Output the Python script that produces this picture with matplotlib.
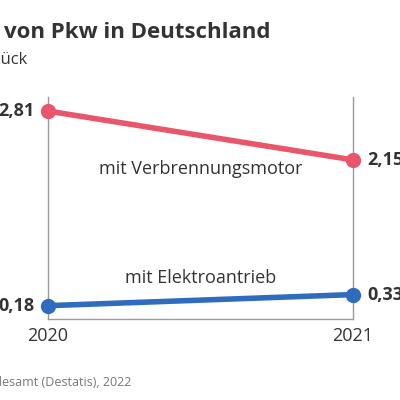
import matplotlib
matplotlib.use("Agg")
import matplotlib.pyplot as plt

years = ["2020", "2021"]
verbrenner = [2.81, 2.15]
elektro = [0.18, 0.33]
labels_v = ["2,81", "2,15"]
labels_e = ["0,18", "0,33"]
title = "von Pkw in Deutschland"
subtitle = "in Millionen Stück"
source = "Quelle: Statistisches Bundesamt (Destatis), 2022"

RED = "#e9566b"
BLUE = "#2f6cbd"
TXT = "#333333"
GRID = "#9a9a9a"
FONT = "Open Sans"

fig = plt.figure(figsize=(4, 4), dpi=100)
ax = fig.add_axes([0.12, 0.2025, 0.7625, 0.555])
x = [0, 1]
ax.plot(x, verbrenner, color=RED, lw=4, marker="o", ms=10, solid_capstyle="round", zorder=3, clip_on=False)
ax.plot(x, elektro, color=BLUE, lw=4, marker="o", ms=10, solid_capstyle="round", zorder=3, clip_on=False)
ax.set_xlim(0, 1)
ax.set_ylim(0, 3)
ax.spines["top"].set_visible(False)
for s in ["left", "right", "bottom"]:
    ax.spines[s].set_color(GRID)
    ax.spines[s].set_linewidth(1.0)
ax.set_yticks([])
ax.set_xticks(x)
ax.set_xticklabels(years, fontsize=13, color=TXT, family=FONT)
ax.tick_params(axis="x", length=0, pad=6)

for series, labs in ((verbrenner, labels_v), (elektro, labels_e)):
    for xi, v, l in zip(x, series, labs):
        off = -10 if xi == 0 else 10
        ax.annotate(l, (xi, v), xytext=(off, 0), textcoords="offset points",
                    ha="right" if xi == 0 else "left", va="center",
                    fontsize=13, fontweight="bold", color=TXT, family=FONT)

ax.text(0.5, 2.03, "mit Verbrennungsmotor", ha="center", va="center", fontsize=13, color=TXT, family=FONT)
ax.text(0.5, 0.55, "mit Elektroantrieb", ha="center", va="center", fontsize=13, color=TXT, family=FONT)

fig.text(4 / 400, 1 - 32 / 400, title, ha="left", va="center", fontsize=16, fontweight="bold", color=TXT, family=FONT)
fig.text(27 / 400, 1 - 60 / 400, subtitle, ha="right", va="center", fontsize=12, color=TXT, family=FONT)
fig.text(131 / 400, 1 - 382 / 400, source, ha="right", va="center", fontsize=9, color="#777777", family=FONT)

fig.savefig("out.png", dpi=100)
